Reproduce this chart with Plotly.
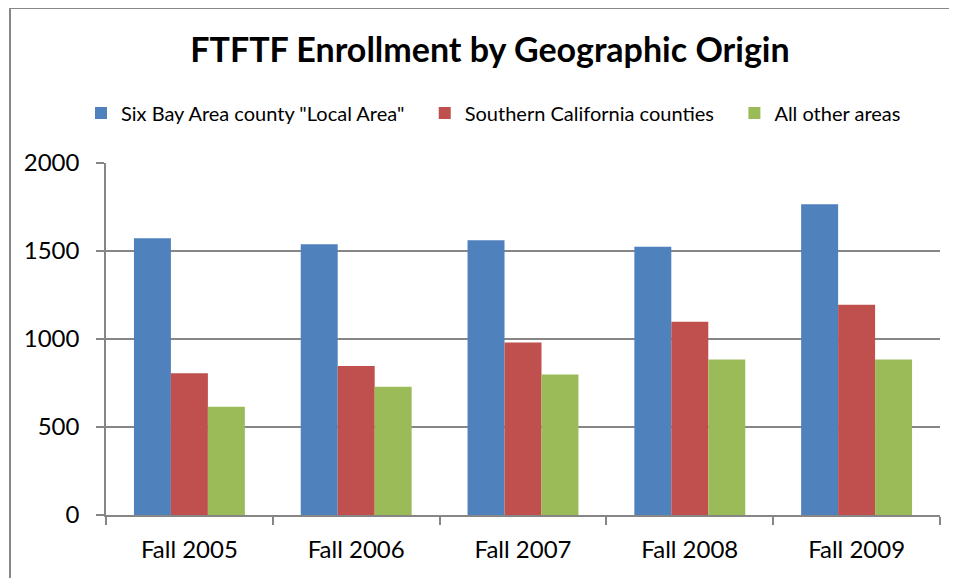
import plotly.graph_objects as go

# data
terms = ["Fall 2005", "Fall 2006", "Fall 2007", "Fall 2008", "Fall 2009"]
bay_area = [1572, 1538, 1561, 1524, 1766]
socal = [805, 847, 980, 1098, 1195]
other = [615, 728, 798, 883, 883]

series_names = ['Six Bay Area county "Local Area"', "Southern California counties", "All other areas"]
colors = ["#4F81BD", "#C0504D", "#9BBB59"]

# the page body has an 8px margin, so lay the figure out 8px smaller
OFF = 8
W, H = 957 - OFF, 578 - OFF
L, T = 106 - OFF, 163 - OFF
R = W - (940 - OFF)
B = H - (515 - OFF)
plot_w = W - L - R
plot_h = H - T - B

pad = "\u00a0" * 3
fig = go.Figure()
for name, vals, col in zip(series_names, [bay_area, socal, other], colors):
    fig.add_trace(go.Bar(
        x=terms, y=vals, name=name + pad,
        marker=dict(color=col, line=dict(width=0)),
    ))

def px_x(p):
    return (p - OFF - L) / plot_w

def px_y(p):
    return (H - B - (p - OFF)) / plot_h

fig.update_layout(
    width=W, height=H,
    margin=dict(l=L, r=R, t=T, b=B, autoexpand=False),
    paper_bgcolor="white",
    plot_bgcolor="white",
    barmode="group",
    bargap=0.335,
    bargroupgap=0,
    font=dict(family="Lato", color="black"),
    title=dict(
        text="<b>FTFTF Enrollment by Geographic Origin</b>",
        font=dict(size=34, family="Lato", color="black"),
        x=(490 - OFF) / W, xanchor="center",
        y=1 - (50 - OFF) / H, yanchor="middle", yref="container",
    ),
    legend=dict(
        orientation="h",
        x=px_x(81), xanchor="left",
        y=px_y(113), yanchor="middle",
        font=dict(size=20, family="Lato"),
        itemwidth=30,
        traceorder="normal",
        bgcolor="rgba(0,0,0,0)",
    ),
    xaxis=dict(
        showgrid=False,
        showline=True, linecolor="#868686", linewidth=1.5,
        ticks="outside", tickson="boundaries", ticklen=8,
        tickcolor="#868686", tickwidth=1.5,
        tickfont=dict(size=24, family="Lato"),
        ticklabelstandoff=12,
    ),
    yaxis=dict(
        range=[0, 2000], dtick=500,
        showgrid=True, gridcolor="#868686", gridwidth=1.5,
        showline=True, linecolor="#868686", linewidth=1.5,
        ticks="outside", ticklen=8, tickcolor="#868686", tickwidth=1.5,
        tickfont=dict(size=24, family="Lato"),
        ticklabelstandoff=12,
        zeroline=False,
    ),
    shapes=[dict(
        type="rect", xref="paper", yref="paper",
        x0=px_x(10), x1=px_x(990), y0=px_y(620), y1=px_y(8),
        line=dict(color="#888888", width=2),
        fillcolor="rgba(0,0,0,0)", layer="below",
    )],
)

fig.write_html("out.html")
